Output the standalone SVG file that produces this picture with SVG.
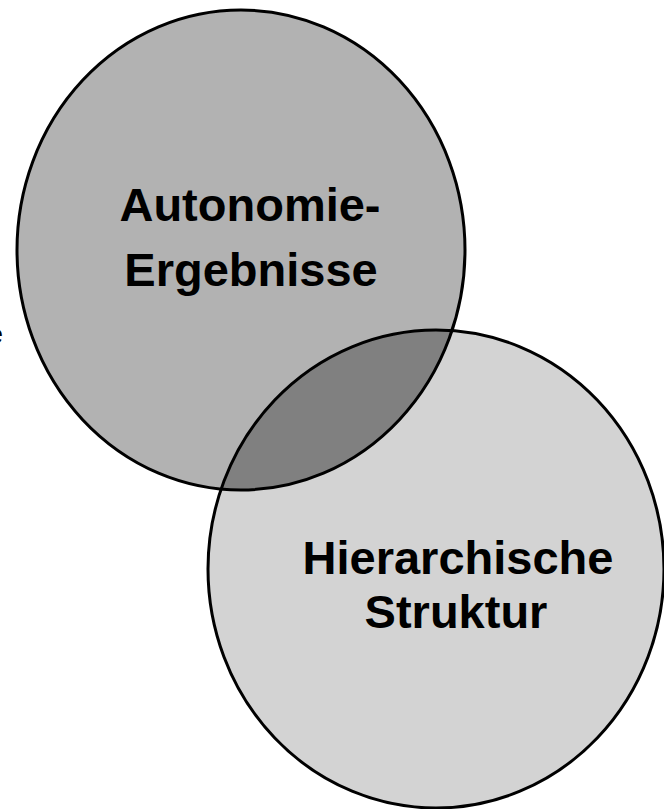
<svg xmlns="http://www.w3.org/2000/svg" width="664" height="809" viewBox="0 0 664 809">
<style>
.lbl{font-family:"Liberation Sans",Arial,sans-serif;font-weight:bold;font-size:47px;fill:#000;text-anchor:middle}
.edge{fill:none;stroke:#000;stroke-width:3}
</style>
<defs>
<clipPath id="c1"><ellipse cx="241" cy="250" rx="224" ry="240"/></clipPath>
</defs>
<rect width="664" height="809" fill="#fff"/>
<g id="autonomie">
<ellipse cx="241" cy="250" rx="224" ry="240" fill="#b2b2b2"/>
</g>
<g id="hierarchie">
<ellipse cx="436" cy="569" rx="228" ry="239" fill="#d3d3d3"/>
</g>
<g id="overlap">
<ellipse cx="436" cy="569" rx="228" ry="239" fill="#808080" clip-path="url(#c1)"/>
</g>
<g id="outlines">
<ellipse class="edge" cx="241" cy="250" rx="224" ry="240"/>
<ellipse class="edge" cx="436" cy="569" rx="228" ry="239"/>
</g>
<g id="labels">
<text class="lbl" x="250" y="221">Autonomie-</text>
<text class="lbl" x="251" y="286">Ergebnisse</text>
<text class="lbl" x="458" y="574">Hierarchische</text>
<text class="lbl" x="456" y="628">Struktur</text>
<text x="-11" y="343" style="font-family:'Liberation Sans',Arial,sans-serif;font-size:25px;fill:#000">e</text>
</g>
</svg>
